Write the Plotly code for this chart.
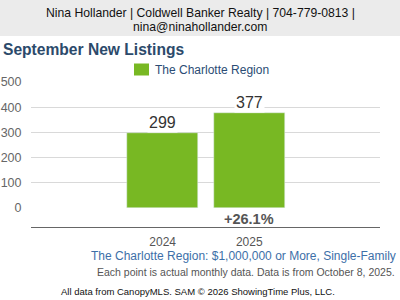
import plotly.graph_objects as go

years = ["2024", "2025"]
listings = [299, 377]
change_label = "+26.1%"
series_name = "The Charlotte Region"
y_ticks = [0, 100, 200, 300, 400, 500]

W, H = 400, 300
L, R, T, B = 31, 20, 82, 92  # plot area 31..380 x 82..208
PW, PH = W - L - R, H - T - B

def px(x):
    return (x - L) / PW

def py(y):
    return (H - B - y) / PH

FONT = "Liberation Sans, Arial, sans-serif"
GREEN = "#78b823"

fig = go.Figure()
fig.add_trace(go.Bar(x=[0, 1], y=listings, name=series_name, marker_color=GREEN,
                     width=0.82, showlegend=False, hoverinfo="skip"))

# value labels
for i, v in enumerate(listings):
    fig.add_annotation(x=i, y=v, xref="x", yref="y", text=str(v), showarrow=False,
                       yanchor="bottom", font=dict(family=FONT, size=16, color="#333333"),
                       bgcolor="white", borderpad=1, yshift=0)

fig.add_annotation(x=1, y=py(219), xref="x", yref="paper", text="<b>%s</b>" % change_label,
                   showarrow=False, font=dict(family=FONT, size=14.5, color="#555555"),
                   yanchor="middle")

# header band
fig.add_shape(type="rect", xref="paper", yref="paper", x0=px(0), x1=px(400),
              y0=py(36), y1=py(0), fillcolor="#ebebeb", line_width=0, layer="below")
fig.add_annotation(x=px(200), y=py(12.5), xref="paper", yref="paper", showarrow=False,
                   text="Nina Hollander | Coldwell Banker Realty | 704-779-0813 |",
                   font=dict(family=FONT, size=12.2, color="#111111"), yanchor="middle")
fig.add_annotation(x=px(200), y=py(27), xref="paper", yref="paper", showarrow=False,
                   text="nina@ninahollander.com",
                   font=dict(family=FONT, size=12.2, color="#111111"), yanchor="middle")

# title
fig.add_annotation(x=px(1), y=py(49.5), xref="paper", yref="paper", showarrow=False,
                   text="<b>September New Listings</b>", xanchor="left", yanchor="middle",
                   font=dict(family=FONT, size=15.6, color="#2c4a6b"))

# legend
fig.add_shape(type="rect", xref="paper", yref="paper", x0=px(134), x1=px(149),
              y0=py(75.5), y1=py(63.5), fillcolor=GREEN, line_width=0)
fig.add_annotation(x=px(153), y=py(70), xref="paper", yref="paper", showarrow=False,
                   text=series_name, xanchor="left", yanchor="middle",
                   font=dict(family=FONT, size=12, color="#2b4c74"))

# bottom line
fig.add_shape(type="line", xref="paper", yref="paper", x0=0, x1=1,
              y0=py(227.5), y1=py(227.5), line=dict(color="#666666", width=1.2))

# footer texts
fig.add_annotation(x=px(398), y=py(255.5), xref="paper", yref="paper", showarrow=False,
                   text="The Charlotte Region: $1,000,000 or More, Single-Family",
                   xanchor="right", yanchor="middle",
                   font=dict(family=FONT, size=12, color="#3d6fa8"))
fig.add_annotation(x=px(397), y=py(272), xref="paper", yref="paper", showarrow=False,
                   text="Each point is actual monthly data. Data is from October 8, 2025.",
                   xanchor="right", yanchor="middle",
                   font=dict(family=FONT, size=10.5, color="#555555"))
fig.add_annotation(x=px(198), y=py(291.5), xref="paper", yref="paper", showarrow=False,
                   text="All data from CanopyMLS. SAM © 2026 ShowingTime Plus, LLC.",
                   xanchor="center", yanchor="middle",
                   font=dict(family=FONT, size=9.5, color="#111111"))

fig.update_layout(
    width=W, height=H, margin=dict(l=L, r=R, t=T, b=B, pad=0, autoexpand=False),
    paper_bgcolor="white", plot_bgcolor="white", showlegend=False,
    xaxis=dict(range=[-1.52, 2.51], tickmode="array", tickvals=[0, 1], ticktext=years,
               showgrid=False, zeroline=False, showline=False, ticks="",
               ticklabelstandoff=25, tickfont=dict(family=FONT, size=12, color="#555555"),
               fixedrange=True, automargin=False),
    yaxis=dict(range=[0, 500], tickvals=y_ticks, showgrid=True, gridcolor="#d9d9d9",
               gridwidth=1, zeroline=False, showline=False, ticks="outside", ticklen=6,
               tickcolor="rgba(0,0,0,0)", tickfont=dict(family=FONT, size=12.5, color="#666666"),
               fixedrange=True, automargin=False),
    bargap=0,
)

fig.write_html("out.html", config={"displayModeBar": False})
